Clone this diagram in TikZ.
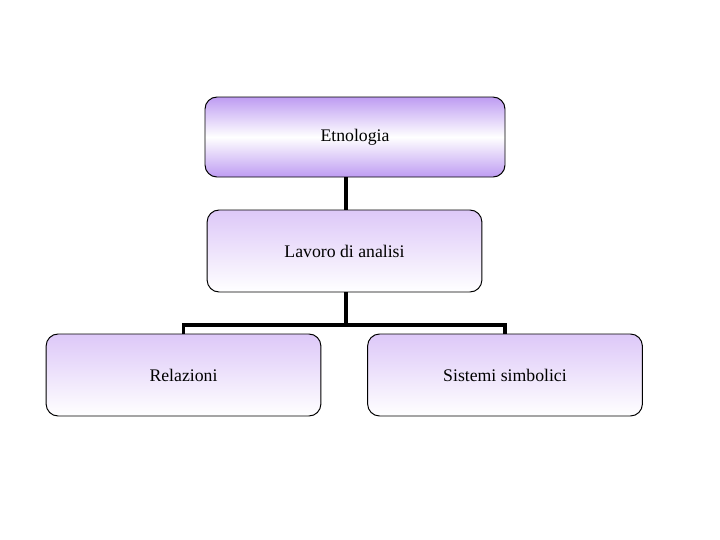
\documentclass[tikz,border=0pt]{standalone}
\usepackage{fontspec}
\setmainfont{Liberation Serif}
\usepackage{tikz}
\usetikzlibrary{positioning}
\definecolor{LilacDeep}{HTML}{BE9CF2}
\definecolor{LilacSoft}{HTML}{DDC8F8}
\definecolor{Ink}{HTML}{000000}

\begin{document}
\begin{tikzpicture}[
  topbox/.style={draw=Ink,line width=0.7pt,rounded corners=0.3cm,top color=LilacDeep,bottom color=LilacDeep,middle color=white,minimum width=7.5cm,minimum height=2.0cm,align=center,font=\fontsize{12.6}{14}\selectfont},
  subbox/.style={draw=Ink,line width=0.7pt,rounded corners=0.3cm,top color=LilacSoft,bottom color=white,minimum width=6.87cm,minimum height=2.05cm,align=center,font=\fontsize{12.6}{14}\selectfont},
  link/.style={draw=Ink,line width=2.3pt}
]
\useasboundingbox (0,0) rectangle (18,-13.5);

\node[topbox] (a1) at (8.875,-3.425) {Etnologia};
\node[subbox] (a2) at (8.6125,-6.275) {Lavoro di analisi};
\node[subbox] (b1) at (4.5875,-9.375) {Relazioni};
\node[subbox] (b2) at (12.625,-9.375) {Sistemi simbolici};

\coordinate (j) at (8.65,-8.125);

\draw[link] (a1.south -| j) -- (a2.north -| j);
\draw[link] (a2.south -| j) -- (j);
\draw[link] (j) -| (b1.north);
\draw[link] (j) -| (b2.north);
\end{tikzpicture}
\end{document}
